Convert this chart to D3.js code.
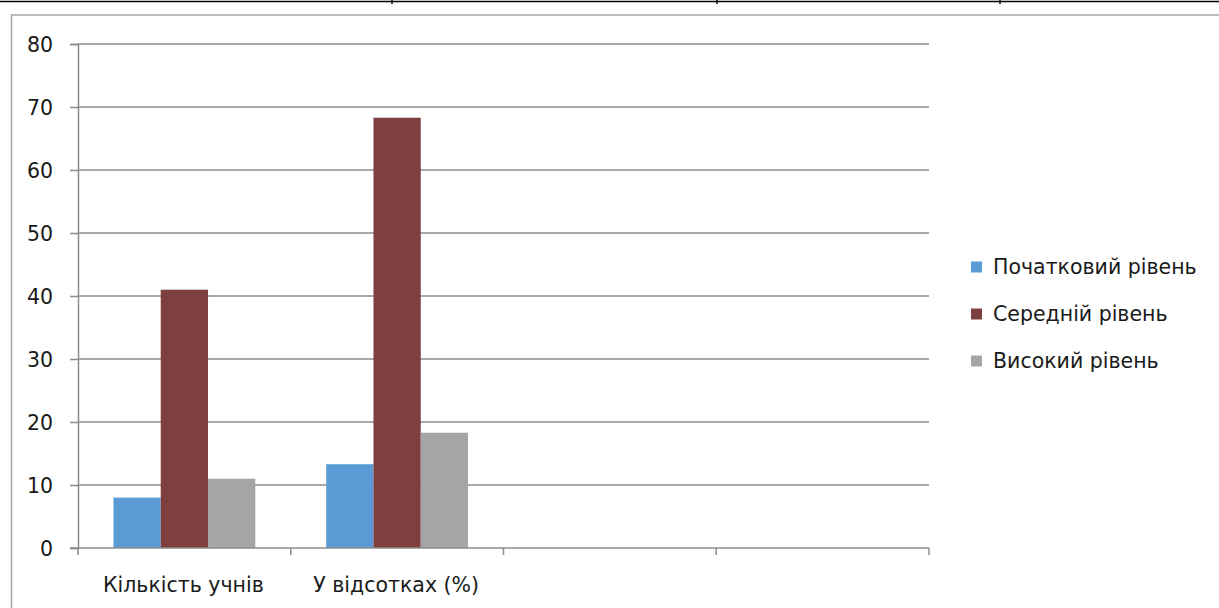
<!DOCTYPE html>
<html>
<head>
<meta charset="utf-8">
<script src="https://cdn.jsdelivr.net/npm/d3@7"></script>
<style>
  html, body { margin: 0; padding: 0; background: #fff; }
  svg { display: block; }
  text { font-family: "DejaVu Sans", sans-serif; fill: #1a1a1a; }
</style>
</head>
<body>
<svg id="chart" width="1219" height="608"></svg>
<script>
// Categories on the x axis (the last two slots are left empty)
const categories = ["Кількість учнів", "У відсотках (%)", "", " "];
// Series names
const seriesNames = ["Початковий рівень", "Середній рівень", "Високий рівень"];
// Values per series, one per filled category
const initialLevel = [8, 13.3];
const middleLevel = [41, 68.3];
const highLevel = [11, 18.3];
const yTicks = [0, 10, 20, 30, 40, 50, 60, 70, 80];
const colors = ["#5B9BD5", "#7E3F3F", "#A5A5A5"];

const seriesValues = [initialLevel, middleLevel, highLevel];
const FONT = "'DejaVu Sans', sans-serif";
const FS = 20.5;

const svg = d3.select("#chart");

// Table border fragment along the top
svg.append("line").attr("x1", 0).attr("x2", 1219).attr("y1", 1.5).attr("y2", 1.5)
  .attr("stroke", "#000").attr("stroke-width", 1.5);
[392, 717, 1000].forEach(x => {
  svg.append("line").attr("x1", x).attr("x2", x).attr("y1", 0).attr("y2", 4)
    .attr("stroke", "#000").attr("stroke-width", 1.5);
});

// Chart frame
svg.append("rect").attr("x", 11.5).attr("y", 15).attr("width", 1230).attr("height", 620)
  .attr("fill", "none").attr("stroke", "#a6a6a6").attr("stroke-width", 1.5);

const plot = { left: 78, right: 929, top: 44, bottom: 548 };

const x = d3.scaleBand().domain(categories).range([plot.left, plot.right]).paddingInner(0).paddingOuter(0);
const y = d3.scaleLinear().domain([0, 80]).range([plot.bottom, plot.top]);

// Bars fill 3/4.5 of each band (gap equal to 1.5 bar widths)
const groupWidth = x.bandwidth() * 3 / 4.5;
const xs = d3.scaleBand().domain(d3.range(seriesNames.length))
  .range([0, groupWidth]).padding(0);

const gridColor = "#8c8c8c";

// Horizontal gridlines
svg.append("g").selectAll("line").data(yTicks.filter(t => t > 0)).join("line")
  .attr("x1", plot.left).attr("x2", plot.right)
  .attr("y1", d => y(d)).attr("y2", d => y(d))
  .attr("stroke", gridColor).attr("stroke-width", 1.5);

// Y axis
const yAxis = svg.append("g").attr("transform", `translate(${plot.left},0)`)
  .call(d3.axisLeft(y).tickValues(yTicks).tickSize(8).tickPadding(17));
yAxis.select(".domain").attr("stroke", gridColor).attr("stroke-width", 1.5);
yAxis.selectAll(".tick line").attr("stroke", gridColor).attr("stroke-width", 1.5);
yAxis.selectAll("text").attr("font-size", FS).attr("fill", "#1a1a1a")
  .attr("font-family", FONT).attr("dy", "0.36em");

// Bars
const groups = svg.append("g").selectAll("g")
  .data(categories.slice(0, initialLevel.length)).join("g")
  .attr("transform", c => `translate(${x(c) + (x.bandwidth() - groupWidth) / 2},0)`);
groups.selectAll("rect")
  .data((c, i) => seriesValues.map((vals, s) => ({ s, v: vals[i] })))
  .join("rect")
  .attr("x", d => xs(d.s))
  .attr("width", xs.bandwidth())
  .attr("y", d => y(d.v))
  .attr("height", d => y(0) - y(d.v))
  .attr("fill", d => colors[d.s]);

// X axis with category boundary ticks
const xAxisG = svg.append("g").attr("transform", `translate(0,${plot.bottom})`);
xAxisG.append("line").attr("x1", plot.left - 8).attr("x2", plot.right)
  .attr("stroke", gridColor).attr("stroke-width", 1.5);
const boundaries = categories.map(c => x(c)).concat([plot.right]);
xAxisG.selectAll("line.tk").data(boundaries).join("line").attr("class", "tk")
  .attr("x1", d => d).attr("x2", d => d).attr("y1", 0).attr("y2", 7)
  .attr("stroke", gridColor).attr("stroke-width", 1.5);
xAxisG.selectAll("text").data(categories).join("text")
  .attr("x", c => x(c) + x.bandwidth() / 2 - 1)
  .attr("y", 44)
  .attr("text-anchor", "middle")
  .attr("font-size", FS)
  .text(c => c.trim());

// Legend
const legend = svg.append("g").attr("transform", "translate(971,0)");
const legendY = [267, 314, 361];
seriesNames.forEach((name, i) => {
  legend.append("rect").attr("x", 0).attr("y", legendY[i] - 5.5)
    .attr("width", 11).attr("height", 11).attr("fill", colors[i]);
  legend.append("text").attr("x", 22).attr("y", legendY[i] + 7)
    .attr("font-size", FS).text(name);
});
</script>
</body>
</html>
